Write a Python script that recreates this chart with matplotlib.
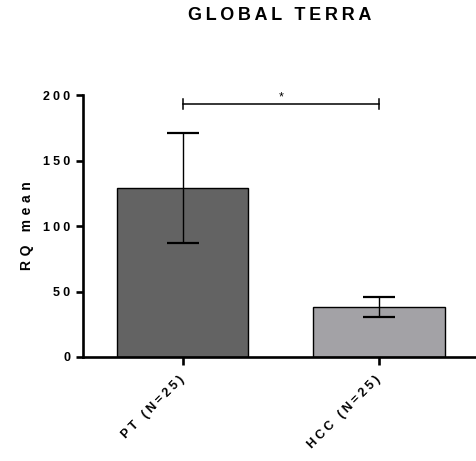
import matplotlib.pyplot as plt
import numpy as np

plt.rcParams['font.family'] = ['Liberation Sans', 'DejaVu Sans']

# data
groups = ['PT (N=25)', 'HCC (N=25)']
rq_mean = [128.8, 38.4]
rq_err = [42.0, 7.6]
bar_colors = ['#636363', '#a3a2a6']
yticks = [0, 50, 100, 150, 200]
sig_y = 193
sig_text = '*'


def spaced(s, gap):
    # wide letter spacing, Prism style
    return gap.join(s)


fig = plt.figure(figsize=(4.77, 4.61), dpi=100)
ax = fig.add_axes([0.174, 0.2256, 0.826, 0.568])

x = np.arange(len(groups))
ax.bar(x, rq_mean, width=0.67, color=bar_colors, edgecolor='black', linewidth=1.0, zorder=2)
ax.errorbar(x, rq_mean, yerr=rq_err, fmt='none', ecolor='black',
            elinewidth=1.0, capsize=11.5, capthick=1.6, zorder=3)

# significance bracket
ax.plot([x[0], x[1]], [sig_y, sig_y], color='black', lw=1.1, clip_on=False)
for xi in x:
    ax.plot([xi, xi], [sig_y - 3.8, sig_y + 3.8], color='black', lw=1.1, clip_on=False)
ax.text((x[0] + x[1]) / 2, sig_y + 1.0, sig_text, ha='center', va='bottom', fontsize=9)

ax.set_xlim(-0.508, 1.5)
ax.set_ylim(0, 200)
ax.set_yticks(yticks)
ax.set_yticklabels([spaced(str(v), '\u2005') for v in yticks],
                   fontsize=9, fontweight='bold')
ax.set_xticks(x)
ax.set_xticklabels([spaced(g, '\u2005') for g in groups], rotation=45, ha='right',
                   va='center', rotation_mode='anchor', fontsize=9, fontweight='bold')

ax.spines['top'].set_visible(False)
ax.spines['right'].set_visible(False)
ax.spines['left'].set_linewidth(1.9)
ax.spines['bottom'].set_linewidth(1.9)
ax.tick_params(axis='y', direction='out', length=5, width=1.9, pad=4)
ax.tick_params(axis='x', direction='out', length=6, width=1.9, pad=9)

ax.set_ylabel(spaced('RQ mean', '\u2004'), fontsize=10, fontweight='bold', labelpad=7)

# title centred over the plot area
fig.text(0.174 + 0.826 / 2, 1 - 15 / 461, spaced('GLOBAL TERRA', '\u2009'),
         ha='center', va='center', fontsize=13, fontweight='bold')

fig.savefig('out.png', dpi=100)
